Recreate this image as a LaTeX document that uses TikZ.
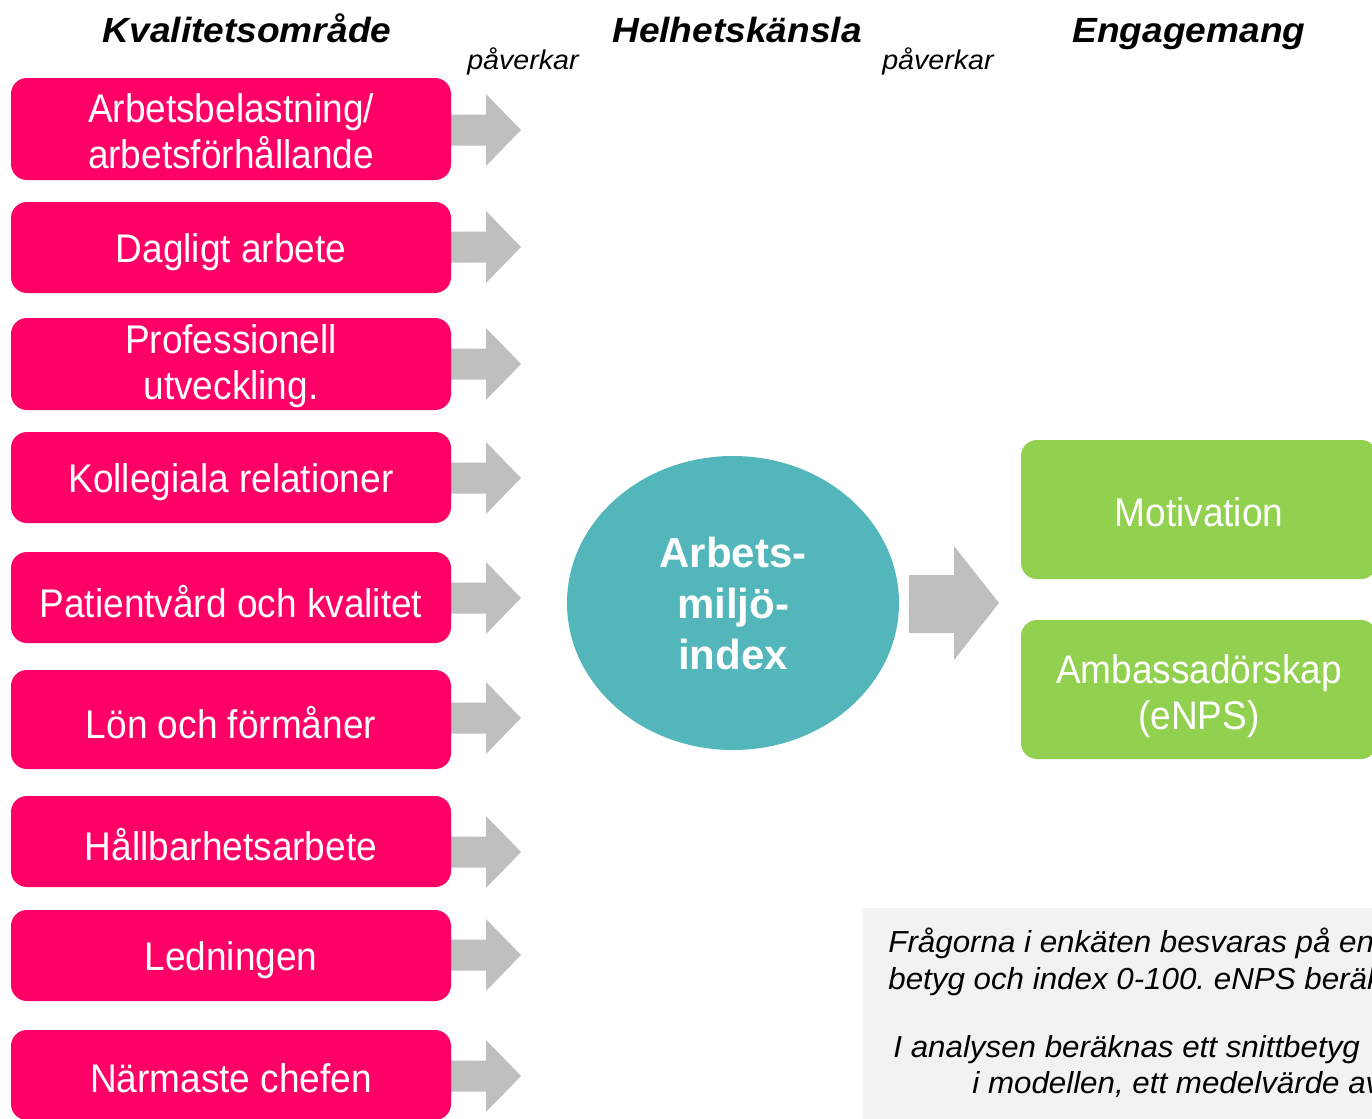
\documentclass[tikz,border=0pt]{standalone}
\usepackage{fontspec}
\setmainfont{Liberation Sans}
\newfontfamily\boxfont[FakeStretch=0.925]{Liberation Sans}
\newfontfamily\widefont[FakeStretch=1.06]{Liberation Sans}
\newfontfamily\notefont[FakeStretch=1.03]{Liberation Sans}
\usetikzlibrary{shapes.geometric}
\definecolor{pinkc}{HTML}{FF0066}
\definecolor{arrowc}{HTML}{BFBFBF}
\definecolor{tealc}{HTML}{52B6BA}
\definecolor{greenc}{HTML}{92D050}
\definecolor{notec}{HTML}{F2F2F2}
\frenchspacing
\begin{document}
\begin{tikzpicture}[x=0.5pt,y=-0.5pt,
  pinkbox/.style={fill=pinkc, rounded corners=8pt, minimum width=220pt, inner sep=0pt},
  greenbox/.style={fill=greenc, rounded corners=8pt, minimum width=178pt, minimum height=69.5pt, inner sep=0pt},
  boxtext/.style={inner sep=0pt, text=white, font=\boxfont\fontsize{20}{23}\selectfont, align=center},
  header/.style={anchor=base, inner sep=0pt, font=\widefont\bfseries\itshape\fontsize{17.5}{21}\selectfont},
  verb/.style={anchor=base, inner sep=0pt, font=\widefont\itshape\fontsize{13.5}{16}\selectfont},
  notetext/.style={anchor=base west, inner sep=0pt, font=\notefont\itshape\fontsize{15.2}{18}\selectfont},
  blockarrow/.style={fill=arrowc}
]
\useasboundingbox (0,0) rectangle (1372,1119);
\clip (0,0) rectangle (1372,1119);

% headers
\node[header] (h1) at (247,42) {Kvalitetsområde};
\node[header] (h2) at (737,42) {Helhetskänsla};
\node[header] (h3) at (1189,42) {Engagemang};
\node[verb] (v1) at (523,69) {påverkar};
\node[verb] (v2) at (938,69) {påverkar};

% small block arrows
\foreach \yy [count=\i] in {130,247,364,478,598,718,852,955,1076}{
  \fill[blockarrow] (440,\yy-15.5) -- (486,\yy-15.5) -- (486,\yy-36) -- (521,\yy)
    -- (486,\yy+36) -- (486,\yy+15.5) -- (440,\yy+15.5) -- cycle;
}

% quality area boxes
\node[pinkbox, minimum height=51pt] (q1) at (231,129) {};
\node[pinkbox, minimum height=45.5pt] (q2) at (231,247.5) {};
\node[pinkbox, minimum height=46pt] (q3) at (231,364) {};
\node[pinkbox, minimum height=45.5pt] (q4) at (231,477.5) {};
\node[pinkbox, minimum height=45.5pt] (q5) at (231,597.5) {};
\node[pinkbox, minimum height=49.5pt] (q6) at (231,719.5) {};
\node[pinkbox, minimum height=45.5pt] (q7) at (231,841.5) {};
\node[pinkbox, minimum height=45.5pt] (q8) at (231,955.5) {};
\node[pinkbox, minimum height=45pt] (q9) at (231,1075) {};

\node[boxtext, yshift=-1pt] (t1) at (q1.center) {Arbetsbelastning/\\arbetsförhållande};
\node[boxtext, yshift=-2.25pt] (t2) at (q2.center) {Dagligt arbete};
\node[boxtext, yshift=-1pt] (t3) at (q3.center) {Professionell\\utveckling.};
\node[boxtext, yshift=-2.25pt] (t4) at (q4.center) {Kollegiala relationer};
\node[boxtext, yshift=-2.25pt] (t5) at (q5.center) {Patientvård och kvalitet};
\node[boxtext, yshift=-1.5pt] (t6) at (q6.center) {Lön och förmåner};
\node[boxtext, yshift=-1.5pt] (t7) at (q7.center) {Hållbarhetsarbete};
\node[boxtext, yshift=-2.25pt] (t8) at (q8.center) {Ledningen};
\node[boxtext, yshift=-1.5pt] (t9) at (q9.center) {Närmaste chefen};

% index ellipse
\node[ellipse, fill=tealc, minimum width=166pt, minimum height=147pt, inner sep=0pt, text=white,
  font=\bfseries\fontsize{21}{25.5}\selectfont, align=center] (idx) at (733,603) {Arbets-\\miljö-\\index};

% big block arrow
\fill[blockarrow] (909,575) -- (954,575) -- (954,546) -- (999,603) -- (954,660) -- (954,633) -- (909,633) -- cycle;

% engagement boxes
\node[greenbox] (e1) at (1199,509.5) {};
\node[greenbox] (e2) at (1199,689.5) {};
\node[boxtext, yshift=-1.25pt] (m1) at (e1.center) {Motivation};
\node[boxtext, yshift=-3.5pt] (m2) at (e2.center) {Ambassadörskap\\(eNPS)};

% note
\fill[notec] (863,908) rectangle (1400,1140);
\node[notetext] (n1) at (888,952) {Frågorna i enkäten besvaras på en};
\node[notetext] (n2) at (888,989) {betyg och index 0-100. eNPS beräk};
\node[notetext] (n3) at (893,1057) {I analysen beräknas ett snittbetyg};
\node[notetext] (n4) at (972,1093) {i modellen, ett medelvärde av};
\end{tikzpicture}
\end{document}
